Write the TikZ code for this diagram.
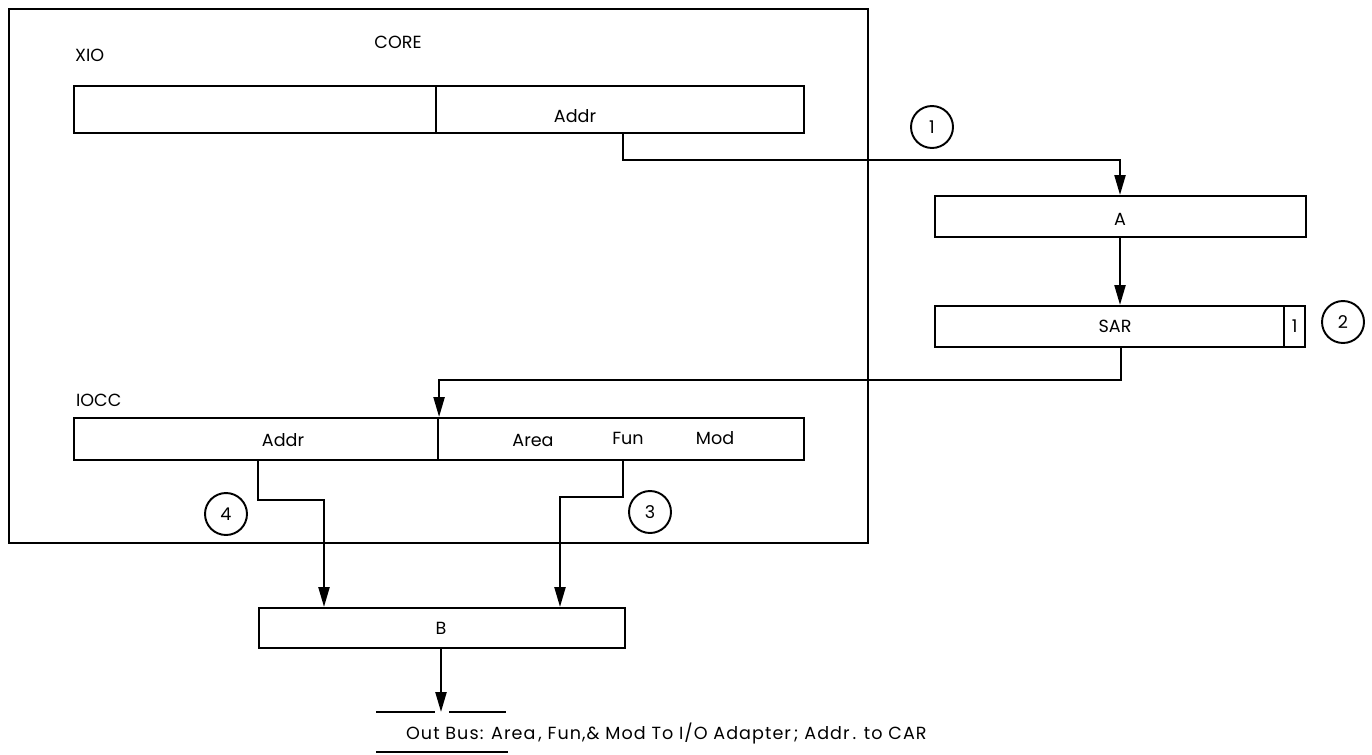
\documentclass[tikz,border=0pt]{standalone}
\usepackage{fontspec}
\setmainfont{Poppins}
\usetikzlibrary{arrows.meta, positioning}

\tikzset{
	reg/.style={draw, line width=1.3pt, inner sep=0pt, anchor=north west},
	lbl/.style={font=\fontsize{10}{12}\selectfont, inner sep=1pt},
	num/.style={draw, circle, line width=1.1pt, minimum size=0.84cm, inner sep=0pt, font=\fontsize{10}{12}\selectfont},
	wire/.style={line width=1.3pt},
	arr/.style={line width=1.3pt, -{Triangle[length=4mm, width=2.2mm]}}
}

\begin{document}
\begin{tikzpicture}[x=0.02cm, y=-0.02cm]
	\useasboundingbox (0,0) rectangle (1372,754);

	% core storage
	\node[reg, minimum width=17.18cm, minimum height=10.68cm] (core) at (8,8) {};
	\node[lbl] (corelbl) at (398,42) {CORE};

	% XIO word
	\node[lbl, anchor=west] (xiolbl) at (73,55) {XIO};
	\node[reg, minimum width=14.6cm, minimum height=0.94cm] (xio) at (73,85) {};
	\draw[wire] (436,85) -- (436,132);
	\node[lbl] (xioaddr) at (575,116) {Addr};

	% A and SAR registers
	\node[reg, minimum width=7.42cm, minimum height=0.82cm] (a) at (934,195) {};
	\node[lbl] (albl) at (1120,219) {A};
	\node[reg, minimum width=6.98cm, minimum height=0.82cm] (sar) at (934,305) {};
	\node[lbl] (sarlbl) at (1115,326) {SAR};
	\node[reg, minimum width=0.42cm, minimum height=0.82cm, font=\fontsize{10}{12}\selectfont] (sarbit) at (1283,305) {1};

	% IOCC word
	\node[lbl, anchor=west] (iocclbl) at (74,400) {IOCC};
	\node[reg, minimum width=14.6cm, minimum height=0.84cm] (iocc) at (73,417) {};
	\draw[wire] (438,417) -- (438,459);
	\node[lbl] (iaddr) at (283,440) {Addr};
	\node[lbl] (iarea) at (533,440) {Area};
	\node[lbl] (ifun) at (628,438) {Fun};
	\node[lbl] (imod) at (715,438) {Mod};

	% B register
	\node[reg, minimum width=7.32cm, minimum height=0.8cm] (b) at (258,607) {};
	\node[lbl] (blbl) at (441,628) {B};

	% step numbers
	\node[num] (n1) at (932,127) {1};
	\node[num] (n2) at (1343,322) {2};
	\node[num] (n3) at (650,512) {3};
	\node[num] (n4) at (226,514) {4};

	% data paths
	\coordinate (xout) at (623,132);
	\coordinate (sarout) at (1121,346);
	\coordinate (addrout) at (258,459);
	\coordinate (funout) at (623,459);
	\coordinate (bin1) at (324,607);
	\coordinate (bin2) at (560,607);
	\coordinate (bout) at (441,647);
	\coordinate (bus) at (441,712);

	\draw[arr] (xout) -- ++(0,28) -| (a.north -| albl);
	\draw[arr] (a.south -| albl) -- (sar.north -| albl);
	\draw[arr] (sarout) -- ++(0,34) -| (iocc.north);
	\draw[arr] (addrout) -- ++(0,41) -| (bin1);
	\draw[arr] (funout) -- ++(0,38) -| (bin2);
	\draw[arr] (bout) -- (bus);

	% out bus
	\draw[wire] (376,712) -- (435,712);
	\draw[wire] (449,712) -- (506,712);
	\draw[wire] (376,752) -- (508,752);
	\node[lbl, anchor=west] (buslbl) at (404,733)
		{\addfontfeatures{LetterSpace=6}Out Bus: Area\,, Fun,\& Mod To I/O Adapter\,; Addr\,. to CAR};
\end{tikzpicture}
\end{document}
